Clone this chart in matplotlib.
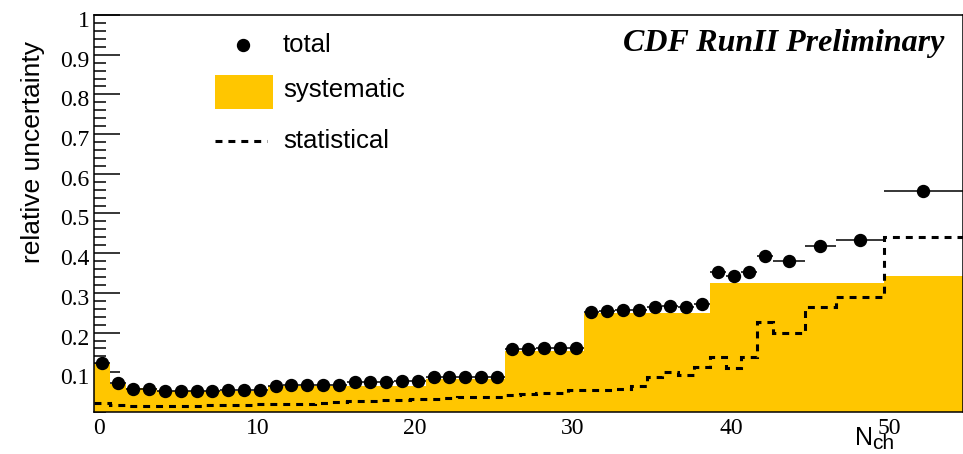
import matplotlib
matplotlib.use('Agg')
import matplotlib.pyplot as plt
import matplotlib.transforms as mtransforms
from matplotlib.lines import Line2D
from matplotlib.patches import Rectangle
from matplotlib.ticker import MultipleLocator

# binning in N_ch: unit bins 0..42, then wider bins at high multiplicity
bin_edges = [-0.5, 0.5, 1.5, 2.5, 3.5, 4.5, 5.5, 6.5, 7.5, 8.5, 9.5,
             10.5, 11.5, 12.5, 13.5, 14.5, 15.5, 16.5, 17.5, 18.5, 19.5,
             20.5, 21.5, 22.5, 23.5, 24.5, 25.5, 26.5, 27.5, 28.5, 29.5,
             30.5, 31.5, 32.5, 33.5, 34.5, 35.5, 36.5, 37.5, 38.5, 39.5,
             40.5, 41.5, 42.5, 44.5, 46.5, 49.5, 54.5]
bin_centers = [0, 1, 2, 3, 4, 5, 6, 7, 8, 9,
               10, 11, 12, 13, 14, 15, 16, 17, 18, 19,
               20, 21, 22, 23, 24, 25, 26, 27, 28, 29,
               30, 31, 32, 33, 34, 35, 36, 37, 38, 39,
               40, 41, 42, 43.5, 45.5, 48.0, 52.0]

total = [0.124, 0.072, 0.057, 0.057, 0.053, 0.053, 0.053, 0.053, 0.055, 0.055,
         0.055, 0.066, 0.068, 0.068, 0.068, 0.067, 0.076, 0.076, 0.076, 0.077,
         0.077, 0.087, 0.088, 0.088, 0.088, 0.088, 0.158, 0.158, 0.160, 0.160,
         0.162, 0.253, 0.254, 0.256, 0.257, 0.265, 0.268, 0.265, 0.273, 0.352,
         0.342, 0.352, 0.394, 0.380, 0.419, 0.434, 0.557]

systematic = [0.122, 0.070, 0.060, 0.060, 0.054, 0.054, 0.054, 0.054, 0.054, 0.054,
              0.054, 0.066, 0.066, 0.066, 0.066, 0.066, 0.066, 0.066, 0.066, 0.066,
              0.066, 0.083, 0.083, 0.083, 0.083, 0.083, 0.154, 0.154, 0.154, 0.154,
              0.154, 0.250, 0.250, 0.250, 0.250, 0.250, 0.250, 0.250, 0.250, 0.324,
              0.324, 0.324, 0.324, 0.324, 0.325, 0.325, 0.342]

statistical = [0.022, 0.017, 0.016, 0.015, 0.016, 0.016, 0.016, 0.017, 0.017, 0.018,
               0.019, 0.019, 0.020, 0.021, 0.023, 0.025, 0.027, 0.028, 0.029, 0.030,
               0.032, 0.034, 0.035, 0.037, 0.038, 0.039, 0.042, 0.046, 0.047, 0.048,
               0.055, 0.056, 0.056, 0.058, 0.065, 0.089, 0.101, 0.093, 0.113, 0.139,
               0.110, 0.139, 0.227, 0.200, 0.265, 0.289, 0.441]

yellow = '#ffc600'
W, H = 963, 454


def fx(px):
    return px / W


def fy(py):
    return 1 - py / H


plt.rcParams['lines.scale_dashes'] = False

fig = plt.figure(figsize=(W / 100, H / 100), dpi=100)
ax = fig.add_axes([fx(94), fy(412), fx(962.5) - fx(94), (412 - 15) / H])

# systematic band, statistical step line, total points
ax.stairs(systematic, bin_edges, fill=True, color=yellow, lw=0, zorder=3)
ax.stairs(statistical, bin_edges, baseline=None, color='black', lw=2.2,
          linestyle=(0, (5, 4.3)), zorder=4)
xerr = [(bin_edges[i + 1] - bin_edges[i]) / 2 for i in range(len(bin_centers))]
ax.errorbar(bin_centers, total, xerr=xerr, fmt='o', color='black', ms=8.6,
            elinewidth=1.1, capsize=0, zorder=5)

ax.set_xlim(-0.5, 54.5)
ax.set_ylim(0, 1)
for s in ax.spines.values():
    s.set_linewidth(1.1)
    s.set_zorder(6)

ax.set_xticks([0, 10, 20, 30, 40, 50])
ax.set_yticks([0.1, 0.2, 0.3, 0.4, 0.5, 0.6, 0.7, 0.8, 0.9, 1.0])
ax.set_yticklabels(['0.1', '0.2', '0.3', '0.4', '0.5', '0.6', '0.7', '0.8', '0.9', '1'])
ax.yaxis.set_minor_locator(MultipleLocator(0.02))
ax.tick_params(axis='y', which='major', direction='in', length=19, width=1.1,
               pad=3, labelsize=17)
ax.tick_params(axis='y', which='minor', direction='in', length=8.5, width=1.1)
ax.tick_params(axis='x', which='major', direction='in', length=0, pad=4, labelsize=17)
for lab in ax.get_xticklabels() + ax.get_yticklabels():
    lab.set_fontfamily('Liberation Serif')

# nudge labels like the original
dy = mtransforms.ScaledTranslation(0, -4 / 100, fig.dpi_scale_trans)
for lab in ax.get_yticklabels():
    lab.set_transform(lab.get_transform() + dy)
dx = mtransforms.ScaledTranslation(-2.5 / 100, 0, fig.dpi_scale_trans)
for lab in ax.get_xticklabels():
    lab.set_transform(lab.get_transform() + dx)

fig.text(fx(33), fy(152), 'relative uncertainty', rotation=90, ha='center',
         va='center', fontsize=19, family='Liberation Sans')
fig.text(fx(855), fy(445), 'N', ha='left', va='baseline', fontsize=18,
         family='Liberation Sans')
fig.text(fx(872), fy(449), 'ch', ha='left', va='baseline', fontsize=15,
         family='Liberation Sans')

fig.text(fx(944), fy(44), 'CDF RunII Preliminary', ha='right', va='center',
         fontsize=23, family='Liberation Serif', weight='bold', style='italic')

# legend drawn by hand
fig.add_artist(Line2D([fx(243)], [fy(45)], marker='o', ms=8.6, color='black',
                      transform=fig.transFigure))
fig.add_artist(Rectangle((fx(215), fy(109)), fx(273) - fx(215), (109 - 75) / H,
                         color=yellow, lw=0, transform=fig.transFigure))
fig.add_artist(Line2D([fx(215), fx(267)], [fy(141), fy(141)], color='black',
                      lw=2.2, linestyle=(0, (5, 4.3)), transform=fig.transFigure))
for txt, py in [('total', 45), ('systematic', 90), ('statistical', 141)]:
    fig.text(fx(283), fy(py), txt, ha='left', va='center', fontsize=18.5,
             family='Liberation Sans')

fig.savefig('out.png', dpi=100)
